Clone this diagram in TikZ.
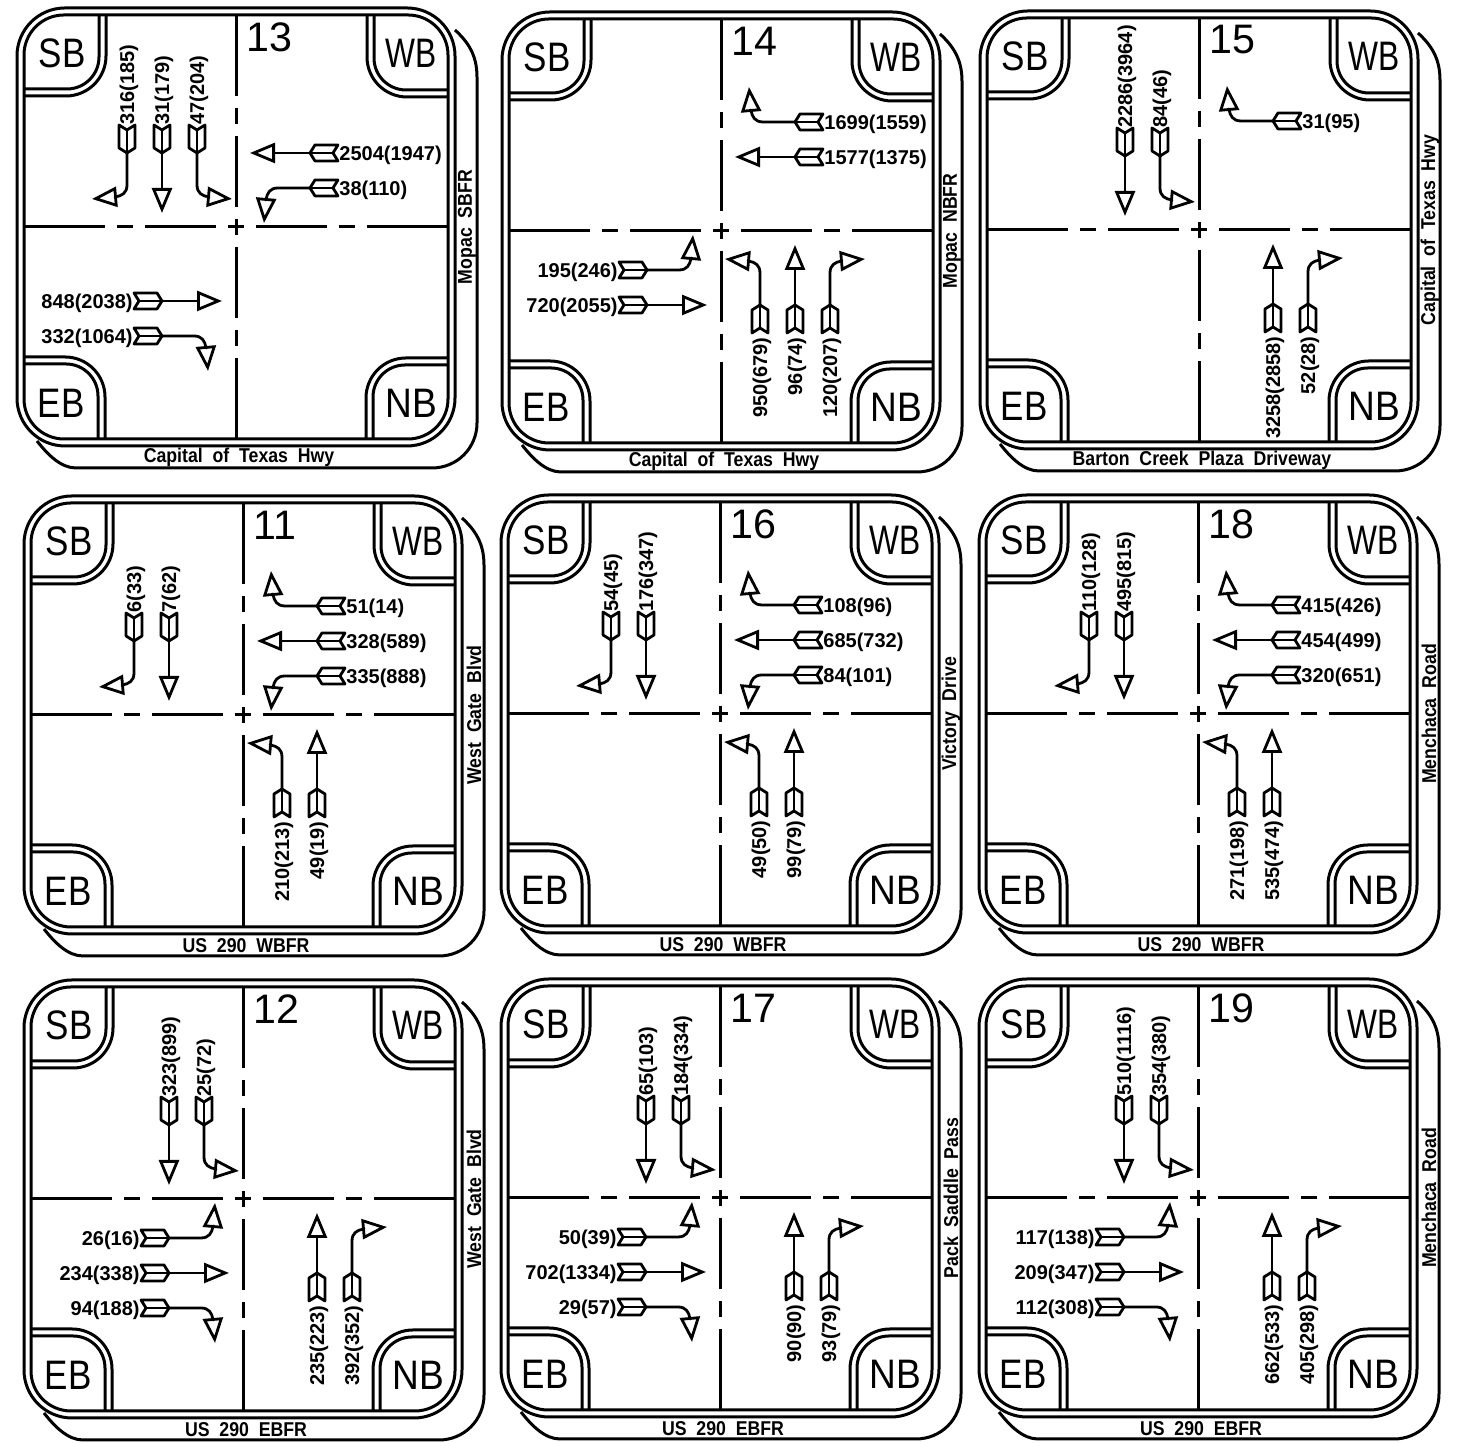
\documentclass[tikz,border=0pt]{standalone}
\usepackage{fontspec}
\usepackage{graphicx}
\usetikzlibrary{arrows.meta}
\setmainfont{Liberation Sans}
\newfontfamily\roadfont[FakeStretch=0.885]{Liberation Sans}

% coordinates below are reference pixels, 1 px = 0.5pt
\newcommand{\bigtext}[2]{\scalebox{#1}[1]{\fontsize{20.6}{20.6}\selectfont #2}}

\newcommand{\straightmove}{\draw[lanearrow] (stem) -- (0,-88);}
\newcommand{\rightmove}{\draw[lanearrow] (stem) -- (0,-60)
  .. controls (0,-68) and (-5,-71) .. (-12,-72) -- (-35,-74);}
\newcommand{\leftmove}{\draw[lanearrow] (stem) -- (0,-60)
  .. controls (0,-68) and (5,-71) .. (12,-72) -- (35,-74);}

\newcommand{\lane}[5]{
  \begin{scope}[rotate=#1, shift={(#3,102)}]
    \node[lanetext, #2] (lanelabel) at (0,0) {#5};
    \draw[lanefletch] (-8,0) -- (0,-5) -- (8,0) -- (8,-23) -- (0,-28)
      -- (-8,-23) -- cycle;
    \coordinate (notch) at (0,-5);
    \coordinate (stem) at (0,-28);
    \draw[lanefletch] (notch) -- (stem);
    #4
  \end{scope}
}
\newcommand{\sblane}[3]{\lane{0}{rotate=90, anchor=west, yshift=-1pt}{#1}{#2}{#3}}
\newcommand{\wblane}[3]{\lane{-90}{anchor=west, xshift=0.5pt, yshift=-1pt}{#1}{#2}{#3}}
\newcommand{\nblane}[3]{\lane{180}{rotate=90, anchor=east, xshift=-2pt, yshift=-1pt}{#1}{#2}{#3}}
\newcommand{\eblane}[3]{\lane{90}{anchor=east, xshift=-0.5pt, yshift=-1pt}{#1}{#2}{#3}}

\newcommand{\panel}[6]{
  \begin{scope}[shift={(#2,1443-#3)}]
    % frame and its offset edge
    \draw[line, rounded corners=24pt] (-219,-219) rectangle (219,219);
    \draw[line, rounded corners=20pt] (-212,-212) rectangle (212,212);
    \draw[line] (219,197) .. controls (232,185) and (241,172) .. (241,150)
      -- (241,-196) .. controls (241,-221) and (221,-241) .. (196,-241)
      -- (-160,-241) .. controls (-175,-241) and (-188,-228) .. (-199,-214);
    % corners and stop lines
    \foreach \ang in {0,90,180,270} {
      \begin{scope}[rotate=\ang]
        \draw[line, rounded corners=16pt] (-137,212) -- (-137,138) -- (-212,138);
        \draw[line, rounded corners=20pt] (-130,212) -- (-130,131) -- (-212,131);
        \draw[line] (212,0) -- (131,0);
        \draw[line] (119,0) -- (103,0);
        \draw[line] (91,0) -- (20,0);
        \draw[line] (8,0) -- (0,0);
      \end{scope}
    }
    \node[anchor=west, inner sep=0pt] (n#1) at (10,190) {\bigtext{1}{#1}};
    \node[inner sep=0pt] (sb#1) at (-174,174) {\bigtext{.85}{SB}};
    \node[inner sep=0pt] (wb#1) at (175,174) {\bigtext{.77}{WB}};
    \node[inner sep=0pt] (eb#1) at (-175,-176) {\bigtext{.85}{EB}};
    \node[inner sep=0pt] (nb#1) at (175,-176) {\bigtext{.9}{NB}};
    \node[roadtext] (road#1) at (3,-230.5) {#4};
    \node[roadtext, rotate=90] (side#1) at (231,0) {#5};
    #6
  \end{scope}
}

\begin{document}
\begin{tikzpicture}[
    x=0.5pt, y=0.5pt,
    line/.style={line width=1.5pt},
    lanefletch/.style={line width=1.4pt, line join=round},
    lanearrow/.style={line width=1.4pt, line join=round,
      -{Triangle[open, length=12.5pt, width=10pt]}},
    lanetext/.style={inner sep=0pt, font=\fontsize{10}{10}\selectfont\bfseries},
    roadtext/.style={inner sep=0pt, font=\fontsize{10}{10}\selectfont\roadfont\bfseries},
  ]
  \useasboundingbox (0,0) rectangle (1464,1443);

  % Row 1
  \panel{13}{236}{227}{Capital\ \ of\ \ Texas\ \ Hwy}{Mopac\ \ SBFR}{
    \sblane{-109}{\rightmove}{316(185)}
    \sblane{-74}{\straightmove}{31(179)}
    \sblane{-39}{\leftmove}{47(204)}
    \wblane{-74}{\straightmove}{2504(1947)}
    \wblane{-39}{\leftmove}{38(110)}
    \eblane{-74}{\straightmove}{848(2038)}
    \eblane{-109}{\rightmove}{332(1064)}
  }
  \panel{14}{721}{231}{Capital\ \ of\ \ Texas\ \ Hwy}{Mopac\ \ NBFR}{
    \wblane{-109}{\rightmove}{1699(1559)}
    \wblane{-74}{\straightmove}{1577(1375)}
    \eblane{-39}{\leftmove}{195(246)}
    \eblane{-74}{\straightmove}{720(2055)}
    \nblane{-39}{\leftmove}{950(679)}
    \nblane{-74}{\straightmove}{96(74)}
    \nblane{-109}{\rightmove}{120(207)}
  }
  \panel{15}{1199}{230}{Barton\ \ Creek\ \ Plaza\ \ Driveway}{Capital\ \ of\ \ Texas\ \ Hwy}{
    \sblane{-74}{\straightmove}{2286(3964)}
    \sblane{-39}{\leftmove}{84(46)}
    \wblane{-109}{\rightmove}{31(95)}
    \nblane{-74}{\straightmove}{3258(2858)}
    \nblane{-109}{\rightmove}{52(28)}
  }

  % Row 2
  \panel{11}{243}{715}{US\ \ 290\ \ WBFR}{West\ \ Gate\ \ Blvd}{
    \sblane{-109}{\rightmove}{6(33)}
    \sblane{-74}{\straightmove}{7(62)}
    \wblane{-109}{\rightmove}{51(14)}
    \wblane{-74}{\straightmove}{328(589)}
    \wblane{-39}{\leftmove}{335(888)}
    \nblane{-39}{\leftmove}{210(213)}
    \nblane{-74}{\straightmove}{49(19)}
  }
  \panel{16}{720}{714}{US\ \ 290\ \ WBFR}{Victory\ \ Drive}{
    \sblane{-109}{\rightmove}{54(45)}
    \sblane{-74}{\straightmove}{176(347)}
    \wblane{-109}{\rightmove}{108(96)}
    \wblane{-74}{\straightmove}{685(732)}
    \wblane{-39}{\leftmove}{84(101)}
    \nblane{-39}{\leftmove}{49(50)}
    \nblane{-74}{\straightmove}{99(79)}
  }
  \panel{18}{1198}{714}{US\ \ 290\ \ WBFR}{Menchaca\ \ Road}{
    \sblane{-109}{\rightmove}{110(128)}
    \sblane{-74}{\straightmove}{495(815)}
    \wblane{-109}{\rightmove}{415(426)}
    \wblane{-74}{\straightmove}{454(499)}
    \wblane{-39}{\leftmove}{320(651)}
    \nblane{-39}{\leftmove}{271(198)}
    \nblane{-74}{\straightmove}{535(474)}
  }

  % Row 3
  \panel{12}{243}{1199}{US\ \ 290\ \ EBFR}{West\ \ Gate\ \ Blvd}{
    \sblane{-74}{\straightmove}{323(899)}
    \sblane{-39}{\leftmove}{25(72)}
    \eblane{-39}{\leftmove}{26(16)}
    \eblane{-74}{\straightmove}{234(338)}
    \eblane{-109}{\rightmove}{94(188)}
    \nblane{-74}{\straightmove}{235(223)}
    \nblane{-109}{\rightmove}{392(352)}
  }
  \panel{17}{720}{1198}{US\ \ 290\ \ EBFR}{Pack\ \ Saddle\ \ Pass}{
    \sblane{-74}{\straightmove}{65(103)}
    \sblane{-39}{\leftmove}{184(334)}
    \eblane{-39}{\leftmove}{50(39)}
    \eblane{-74}{\straightmove}{702(1334)}
    \eblane{-109}{\rightmove}{29(57)}
    \nblane{-74}{\straightmove}{90(90)}
    \nblane{-109}{\rightmove}{93(79)}
  }
  \panel{19}{1198}{1198}{US\ \ 290\ \ EBFR}{Menchaca\ \ Road}{
    \sblane{-74}{\straightmove}{510(1116)}
    \sblane{-39}{\leftmove}{354(380)}
    \eblane{-39}{\leftmove}{117(138)}
    \eblane{-74}{\straightmove}{209(347)}
    \eblane{-109}{\rightmove}{112(308)}
    \nblane{-74}{\straightmove}{662(533)}
    \nblane{-109}{\rightmove}{405(298)}
  }

\end{tikzpicture}
\end{document}
